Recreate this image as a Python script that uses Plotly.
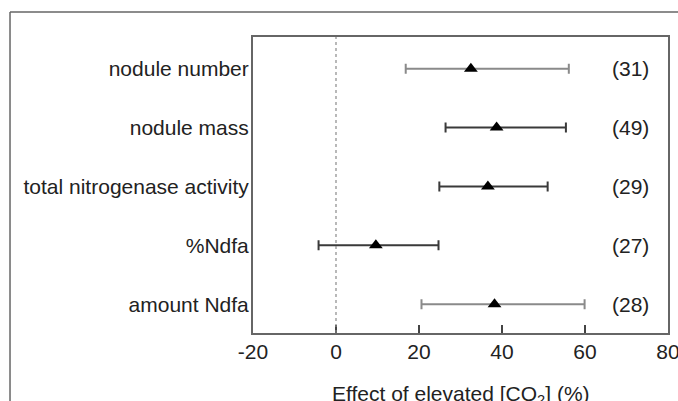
import plotly.graph_objects as go

categories = ["nodule number", "nodule mass", "total nitrogenase activity", "%Ndfa", "amount Ndfa"]
effect_mean = [32.5, 38.7, 36.6, 9.6, 38.2]
ci_lower = [16.8, 26.4, 24.9, -4.2, 20.6]
ci_upper = [56.1, 55.4, 51.0, 24.7, 59.9]
n_studies = ["(31)", "(49)", "(29)", "(27)", "(28)"]
bar_colors = ["#8a8a8a", "#3a3a3a", "#3a3a3a", "#3a3a3a", "#8a8a8a"]

x_ticks = [-20, 0, 20, 40, 60, 80]
x_title = "Effect of elevated [CO<sub>2</sub>] (%)"

FONT = "Liberation Sans, Arial, sans-serif"
TXT = "#222222"
FS = 21

fig = go.Figure()
for i, cat in enumerate(categories):
    fig.add_trace(go.Scatter(
        x=[effect_mean[i]], y=[cat], mode="markers",
        marker=dict(symbol="triangle-up", size=12, color="black"),
        error_x=dict(type="data", symmetric=False,
                     array=[ci_upper[i] - effect_mean[i]],
                     arrayminus=[effect_mean[i] - ci_lower[i]],
                     color=bar_colors[i], thickness=2, width=5),
        showlegend=False, hoverinfo="skip",
    ))

for i, cat in enumerate(categories):
    fig.add_annotation(x=71.0, y=cat, xref="x", yref="y", text=n_studies[i],
                       showarrow=False, font=dict(size=FS, color=TXT, family=FONT))

# x-axis title (partly cut by the bottom edge, as in the original)
fig.add_annotation(x=0.5, y=-0.209, xref="paper", yref="paper", text=x_title,
                   showarrow=False, xanchor="center", yanchor="middle",
                   font=dict(size=FS, color=TXT, family=FONT))

# zero reference line
fig.add_shape(type="line", x0=0, x1=0, y0=0, y1=1, xref="x", yref="paper",
              line=dict(color="#8a8a8a", width=1.2, dash="dot"))

# outer frame (top and left edges visible)
fig.add_shape(type="line", xref="paper", yref="paper", x0=-0.5855, x1=1.1,
              y0=1.0845, y1=1.0845, line=dict(color="#666666", width=1.5))
fig.add_shape(type="line", xref="paper", yref="paper", x0=-0.5855, x1=-0.5855,
              y0=1.0845, y1=-0.3, line=dict(color="#666666", width=1.5))

fig.update_xaxes(range=[-20, 80], tickvals=x_ticks, ticktext=[str(v) for v in x_ticks],
                 showline=True, linecolor="#666666", linewidth=2, mirror=True,
                 ticks="inside", ticklen=8, tickwidth=1.5, tickcolor="#444444",
                 showgrid=False, zeroline=False, automargin=False,
                 ticklabelstandoff=-1, ticklabeloverflow="allow",
                 tickfont=dict(size=FS, color=TXT, family=FONT))
fig.update_yaxes(type="category", categoryorder="array", categoryarray=categories,
                 range=[4.49, -0.54], showline=True, linecolor="#666666", linewidth=2,
                 mirror=True, ticks="", showgrid=False, zeroline=False, automargin=False,
                 ticklabelstandoff=-2,
                 tickfont=dict(size=FS, color=TXT, family=FONT))

fig.update_layout(width=678, height=401, margin=dict(l=253, r=10, t=37, b=68),
                  paper_bgcolor="white", plot_bgcolor="white",
                  font=dict(family=FONT, color=TXT))

fig.write_html("out.html", config={"displayModeBar": False},
               post_script="document.body.style.margin='0';document.body.style.overflow='hidden';")
